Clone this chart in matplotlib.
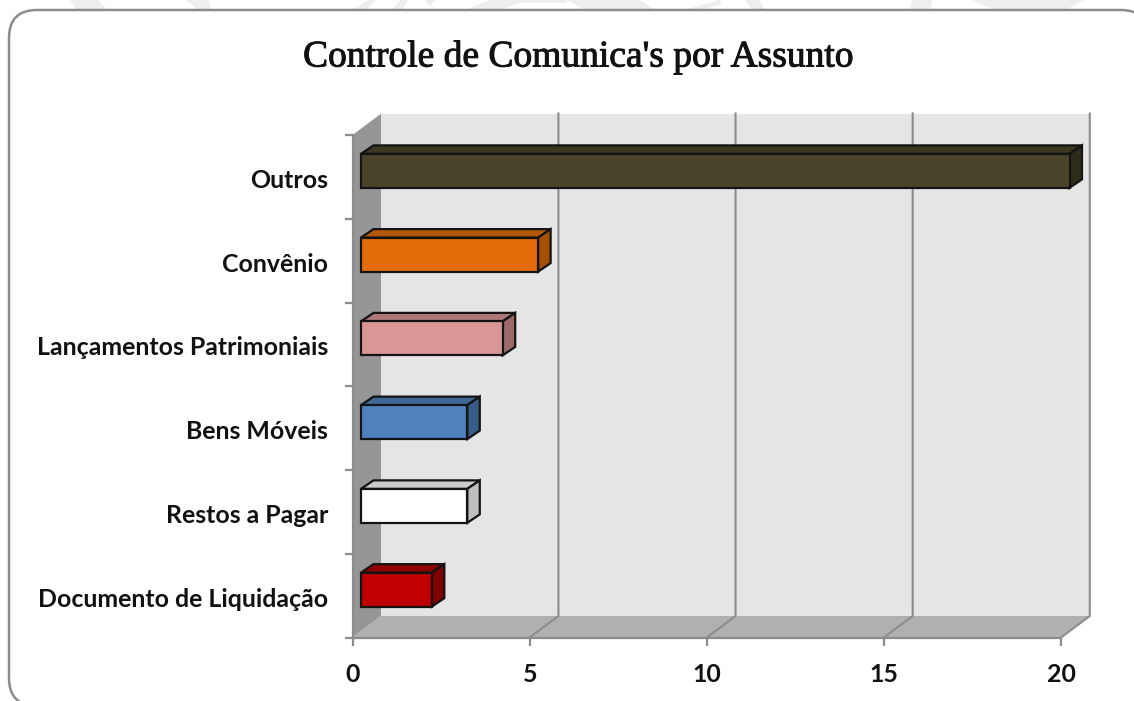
import matplotlib
matplotlib.use('Agg')
from matplotlib import pyplot as plt
from matplotlib import patheffects as pe
from matplotlib.patches import FancyBboxPatch, Polygon
from matplotlib.transforms import ScaledTranslation

categories = ['Documento de Liquidação', 'Restos a Pagar', 'Bens Móveis',
              'Lançamentos Patrimoniais', 'Convênio', 'Outros']
values = [2, 3, 3, 4, 5, 20]
front_colors = ['#c00000', '#ffffff', '#4f81bd', '#d99694', '#e46c0a', '#4a452a']
top_colors = ['#900000', '#cccccc', '#3f6797', '#ae7876', '#b55708', '#3b3721']
side_colors = ['#800000', '#bfbfbf', '#385d88', '#9b6a69', '#a65006', '#2e2b1a']
x_ticks = [0, 5, 10, 15, 20]
title = "Controle de Comunica's por Assunto"

W, H = 1134, 701
fig = plt.figure(figsize=(W/100, H/100), dpi=100)

# faint watermark leftovers above the frame
watermark = [
    [(70, 0), (98, 0), (107, 10), (77, 10)],
    [(186, 0), (208, 0), (212, 10), (198, 10)],
    [(352, 10), (368, 0), (376, 0), (366, 10)],
    [(392, 10), (400, 0), (408, 0), (402, 10)],
    [(425, 0), (436, 0), (430, 6)],
    [(465, 10), (490, 0), (567, 0), (567, 3), (520, 3), (500, 10)],
    [(567, 0), (640, 0), (655, 10), (585, 10)],
    [(685, 10), (720, 0), (722, 4), (700, 10)],
    [(745, 0), (760, 0), (765, 10), (752, 10)],
    [(910, 10), (912, 0), (932, 0), (930, 10)],
    [(972, 0), (1085, 0), (1065, 10), (995, 10)],
]
for pts in watermark:
    fig.add_artist(Polygon([(x/W, 1 - y/H) for x, y in pts], closed=True,
                           transform=fig.transFigure, fc='#eeeeee', ec='none', zorder=-2))

# rounded frame runs slightly past right and bottom edge
frame = FancyBboxPatch((9 + 28, 701 - 706 + 28), 1100 - 28*2 + 40, 696 - 28*2 - 0,
                       boxstyle='round,pad=28,rounding_size=28',
                       fc='white', ec='#8c8c8c', lw=1.8, transform=None, zorder=-1)
fig.add_artist(frame)

# front plane of the axis box
left, right, top, bottom = 352.5, 1061, 135, 637.5
ax = fig.add_axes([left/W, 1 - bottom/H, (right-left)/W, (bottom-top)/H])
ax.patch.set_alpha(0)
ax.set_xlim(0, 20)
ax.set_ylim(0, len(categories))

ux = (right - left) / 20
uy = (bottom - top) / len(categories)
wall_dx, wall_dy = 28.8/ux, 21.5/uy
bar_dx, bar_dy = 12.5/ux, 8.5/uy
off_x, off_y = 8.5/ux, 6/uy
bar_h = 34/uy
n = len(categories)

# walls
ax.add_patch(Polygon([(0, 0), (wall_dx, wall_dy), (wall_dx, n + wall_dy), (0, n)],
                     fc='#969696', ec='none', clip_on=False, zorder=1))
ax.add_patch(Polygon([(0, 0), (20, 0), (20 + wall_dx, wall_dy), (wall_dx, wall_dy)],
                     fc='#b0b0b0', ec='none', clip_on=False, zorder=1))
ax.add_patch(Polygon([(wall_dx, wall_dy), (20 + wall_dx, wall_dy),
                      (20 + wall_dx, n + wall_dy), (wall_dx, n + wall_dy)],
                     fc='#e5e5e5', ec='none', clip_on=False, zorder=1))

# gridlines on back wall and floor
for t in x_ticks[1:]:
    ax.plot([t, t + wall_dx, t + wall_dx], [0, wall_dy, n + wall_dy], color='#8c8c8c',
            lw=1.5, clip_on=False, zorder=1.5)

# bars
positions = [i + 0.5 + off_y for i in range(n)]
bars = ax.barh(positions, values, height=bar_h, left=off_x, color=front_colors,
               edgecolor='#141414', linewidth=1.6, zorder=4)
for b in bars:
    b.set_clip_on(False)
for y, v, tc, sc in zip(positions, values, top_colors, side_colors):
    x0, x1 = off_x, off_x + v
    y0, y1 = y - bar_h/2, y + bar_h/2
    ax.add_patch(Polygon([(x0, y1), (x1, y1), (x1 + bar_dx, y1 + bar_dy), (x0 + bar_dx, y1 + bar_dy)],
                         fc=tc, ec='#141414', lw=1.6, clip_on=False, zorder=3))
    ax.add_patch(Polygon([(x1, y0), (x1 + bar_dx, y0 + bar_dy), (x1 + bar_dx, y1 + bar_dy), (x1, y1)],
                         fc=sc, ec='#141414', lw=1.6, clip_on=False, zorder=3))

# axes
for s in ['top', 'right']:
    ax.spines[s].set_visible(False)
for s in ['left', 'bottom']:
    ax.spines[s].set_color('#8c8c8c')
    ax.spines[s].set_linewidth(1.6)
    ax.spines[s].set_zorder(2)

ax.set_yticks([i + 0.5 for i in range(n)])
ax.set_yticklabels(categories, fontfamily='Lato', fontweight='bold', fontsize=17.9, color='#111111')
ax.set_yticks(range(n + 1), minor=True)
ax.tick_params(axis='y', which='major', length=0, pad=17.5)
ax.tick_params(axis='y', which='minor', length=5.5, width=1.6, color='#8c8c8c')
ax.set_xticks(x_ticks)
ax.set_xticklabels([str(t) for t in x_ticks], fontfamily='Lato', fontweight='bold',
                   fontsize=17.9, color='#111111')
ax.tick_params(axis='x', length=5.5, width=1.6, color='#8c8c8c', pad=12.5)

# category labels sit a touch lower than the slot centre
shift = ScaledTranslation(0, -1.5/100, fig.dpi_scale_trans)
for lab in ax.get_yticklabels():
    lab.set_transform(lab.get_transform() + shift)

t = fig.text(578/W, 1 - 57/H, title, ha='center', va='center', family='Liberation Serif',
             fontsize=27, color='#111111')
t.set_path_effects([pe.withStroke(linewidth=0.7, foreground='#111111')])

fig.savefig('out.png', dpi=100)
